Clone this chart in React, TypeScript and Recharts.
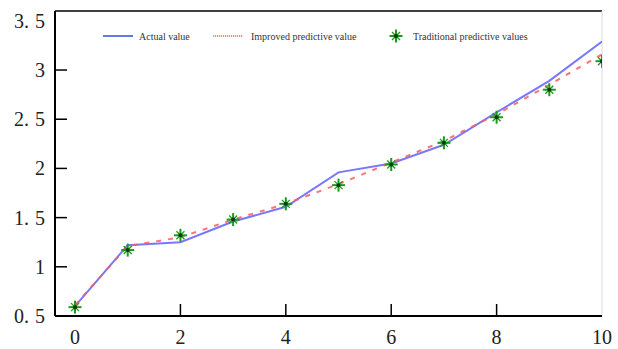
import { LineChart, Line, XAxis, YAxis, ReferenceLine } from 'recharts'

const xValues = [0, 1, 2, 3, 4, 5, 6, 7, 8, 9, 10]
const actualValues = [0.6, 1.22, 1.25, 1.46, 1.61, 1.96, 2.05, 2.24, 2.57, 2.89, 3.29]
const improvedValues = [0.61, 1.21, 1.3, 1.48, 1.64, 1.84, 2.06, 2.28, 2.55, 2.85, 3.16]
const traditionalValues = [0.59, 1.17, 1.32, 1.48, 1.64, 1.83, 2.04, 2.26, 2.52, 2.8, 3.09]
const xTicks = [0, 2, 4, 6, 8, 10]
const yTicks = [0.5, 1, 1.5, 2, 2.5, 3, 3.5]

const data = xValues.map((x, i) => ({
  x,
  actual: actualValues[i],
  improved: improvedValues[i],
  traditional: traditionalValues[i],
}))

const SERIF = 'Liberation Serif'

function Star({ cx, cy }: { cx?: number; cy?: number }) {
  if (cx == null || cy == null) return null
  return (
    <g stroke="#1d9a1d">
      <line x1={cx - 6.5} x2={cx + 6.5} y1={cy} y2={cy} strokeWidth={2} />
      <line x1={cx} x2={cx} y1={cy - 6.5} y2={cy + 6.5} strokeWidth={2} />
      <line x1={cx - 4} y1={cy - 4} x2={cx + 4} y2={cy + 4} strokeWidth={1.3} />
      <line x1={cx - 4} y1={cy + 4} x2={cx + 4} y2={cy - 4} strokeWidth={1.3} />
      <circle cx={cx} cy={cy} r={2} fill="#0b3d0b" stroke="none" />
    </g>
  )
}

function YTick(props: any) {
  const { x, y, payload } = props
  const v = payload.value as number
  const [a, b] = String(v).split('.')
  return (
    <g>
      {v > 0.5 && v < 3.5 && (
        <line x1={x} x2={x + 12} y1={y} y2={y} stroke="#000" strokeWidth={1.5} />
      )}
      <text
        x={x - 10}
        y={y}
        dy="0.35em"
        textAnchor="end"
        fontFamily={SERIF}
        fontSize={20}
        fill="#222"
      >
        {a}
        {b && (
          <>
            .<tspan dx={6}>{b}</tspan>
          </>
        )}
      </text>
    </g>
  )
}

function XTick(props: any) {
  const { x, y, payload } = props
  const v = payload.value as number
  return (
    <g>
      {v > 0 && v < 10 && (
        <line x1={x} x2={x} y1={y} y2={y - 12} stroke="#000" strokeWidth={1.5} />
      )}
      <text
        x={x}
        y={y + 21}
        dy="0.35em"
        textAnchor="middle"
        fontFamily={SERIF}
        fontSize={20}
        fill="#222"
      >
        {v}
      </text>
    </g>
  )
}

function LegendBox() {
  return (
    <svg
      width={618}
      height={60}
      fontFamily={SERIF}
      fontSize={10}
      fill="#333"
      style={{ position: 'absolute', left: 0, top: 0, pointerEvents: 'none' }}
    >
      <line x1={103} x2={133} y1={36} y2={36} stroke="#2c4fd0" strokeWidth={1.5} />
      <text x={139} y={39.5}>
        Actual value
      </text>
      <line
        x1={213}
        x2={243}
        y1={36}
        y2={36}
        stroke="#ff1010"
        strokeWidth={1.2}
        strokeDasharray="1.2 0.8"
      />
      <text x={251} y={39.5}>
        Improved predictive value
      </text>
      <Star cx={396} cy={36} />
      <text x={413} y={39.5}>
        Traditional predictive values
      </text>
    </svg>
  )
}

export default function App() {
  return (
    <div style={{ position: 'absolute', left: 0, top: 0, width: 618, height: 349, background: '#fff' }}>
      <LineChart
        width={618}
        height={349}
        data={data}
        margin={{ top: 11, right: 16, left: 0, bottom: 0 }}
      >
        <XAxis
          dataKey="x"
          type="number"
          domain={[-0.38, 10]}
          ticks={xTicks}
          height={33}
          tickSize={0}
          tickMargin={0}
          tickLine={false}
          axisLine={{ stroke: '#000', strokeWidth: 2 }}
          tick={<XTick />}
          allowDataOverflow
        />
        <YAxis
          type="number"
          domain={[0.5, 3.6]}
          ticks={yTicks}
          width={55}
          tickSize={0}
          tickMargin={0}
          tickLine={false}
          axisLine={{ stroke: '#000', strokeWidth: 2 }}
          tick={<YTick />}
          allowDataOverflow
        />
        <ReferenceLine y={3.6} stroke="#000" strokeWidth={1.5} />
        <ReferenceLine x={10} stroke="#d9d9d9" strokeWidth={1} />
        <Line
          dataKey="actual"
          stroke="#6060ff"
          strokeWidth={2}
          strokeOpacity={0.85}
          dot={false}
          activeDot={false}
          isAnimationActive={false}
        />
        <Line
          dataKey="improved"
          stroke="#ff5a5a"
          strokeWidth={2}
          strokeOpacity={0.85}
          strokeDasharray="5 7"
          dot={false}
          activeDot={false}
          isAnimationActive={false}
        />
        <Line
          dataKey="traditional"
          stroke="none"
          dot={(p: any) => <Star key={p.index} cx={p.cx} cy={p.cy} />}
          activeDot={false}
          isAnimationActive={false}
        />
      </LineChart>
      <LegendBox />
    </div>
  )
}
